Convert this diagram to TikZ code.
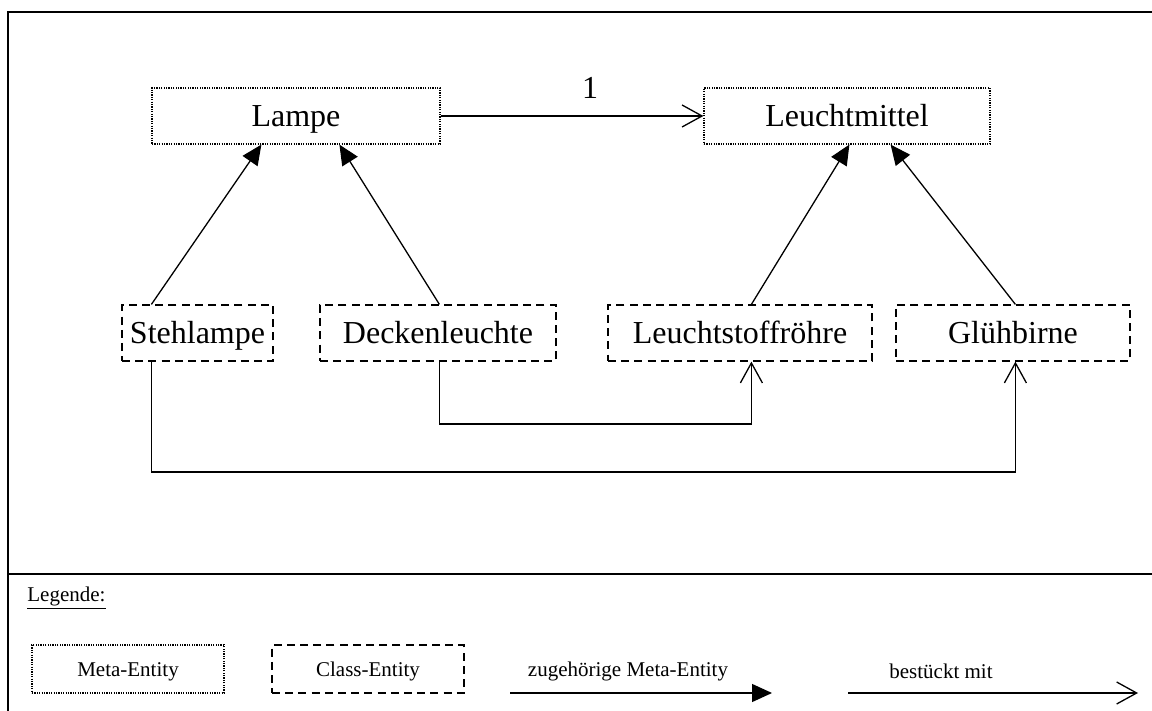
\documentclass[tikz,border=0pt]{standalone}
\usepackage{fontspec}
\setmainfont{Liberation Serif}
\usetikzlibrary{arrows.meta,calc}
\begin{document}
\begin{tikzpicture}[x=0.5pt,y=-0.5pt,
  metabox/.style={draw,line width=0.6pt,dash pattern=on 0.6pt off 0.6pt,minimum height=28pt,inner sep=0pt,text height=10.8pt,text depth=0pt,font=\fontsize{16}{19}\selectfont},
  classbox/.style={draw,line width=0.6pt,dash pattern=on 4pt off 2.6pt,minimum height=28pt,inner sep=0pt,text height=10.8pt,text depth=0pt,font=\fontsize{16}{19}\selectfont},
  legmeta/.style={metabox,minimum height=24pt,text height=7pt,font=\fontsize{10.5}{12}\selectfont},
  legclass/.style={classbox,minimum height=24pt,text height=7pt,font=\fontsize{10.5}{12}\selectfont},
  toMeta/.style={line width=0.65pt,-{Triangle[length=10pt,width=9pt]}},
  hasArr/.style={line width=0.65pt,-{Straight Barb[length=10pt,width=11pt,line width=0.65pt]}},
  frameline/.style={line width=1pt},
  legtext/.style={font=\fontsize{10.5}{12}\selectfont,inner sep=0pt}
]
\useasboundingbox (0,0) rectangle (1152,711);
% frame
\coordinate (ftl) at (8,12);
\coordinate (ftr) at (1152,12);
\coordinate (fbl) at (8,711);
\coordinate (dl) at (8,574);
\coordinate (dr) at (1152,574);
\draw[frameline] (fbl) -- (ftl) -- (ftr);
\draw[frameline] (dl) -- (dr);

% meta entities
\node[metabox,minimum width=144pt] (lampe) at (296,116) {Lampe};
\node[metabox,minimum width=143pt] (leucht) at (847,116) {Leuchtmittel};
% class entities
\node[classbox,minimum width=75.5pt] (steh) at (197.5,333) {Stehlampe};
\node[classbox,minimum width=118pt] (decken) at (438,333) {Deckenleuchte};
\node[classbox,minimum width=132pt] (leuchtst) at (740,333) {Leuchtstoffröhre};
\node[classbox,minimum width=117pt] (gluh) at (1013,333) {Glühbirne};

% association
\draw[hasArr] (lampe.east) -- (leucht.west);
\node[font=\fontsize{16}{19}\selectfont] (one) at (590,88) {1};

% generalisation arrows
\draw[toMeta] ([xshift=15pt]steh.north west) -- ([xshift=55pt]lampe.south west);
\draw[toMeta] ([xshift=60pt]decken.north west) -- ([xshift=94pt]lampe.south west);
\draw[toMeta] ([xshift=72pt]leuchtst.north west) -- ([xshift=73pt]leucht.south west);
\draw[toMeta] ([xshift=60pt]gluh.north west) -- ([xshift=-50pt]leucht.south east);

% bestückt mit
\coordinate (c1) at (600,424);
\coordinate (c2) at (600,472);
\draw[hasArr] ([xshift=60pt]decken.south west) |- (c1) -| ([xshift=72pt]leuchtst.south west);
\draw[hasArr] ([xshift=15pt]steh.south west) |- (c2) -| ([xshift=60pt]gluh.south west);

% legend
\node[legtext,anchor=west] (leg) at (27,598) {\underline{Legende:}};
\node[legmeta,minimum width=96pt] (lm) at (128,669) {Meta-Entity};
\node[legclass,minimum width=96pt] (lc) at (368,669) {Class-Entity};
\coordinate (la1) at (510,693);
\coordinate (la2) at (772,693);
\coordinate (lb1) at (848,693);
\coordinate (lb2) at (1138,693);
\draw[toMeta] (la1) -- (la2);
\draw[hasArr] (lb1) -- (lb2);
\node[legtext] (lat) at (628,671) {zugehörige Meta-Entity};
\node[legtext] (lbt) at (941,671) {bestückt mit};
\end{tikzpicture}
\end{document}
